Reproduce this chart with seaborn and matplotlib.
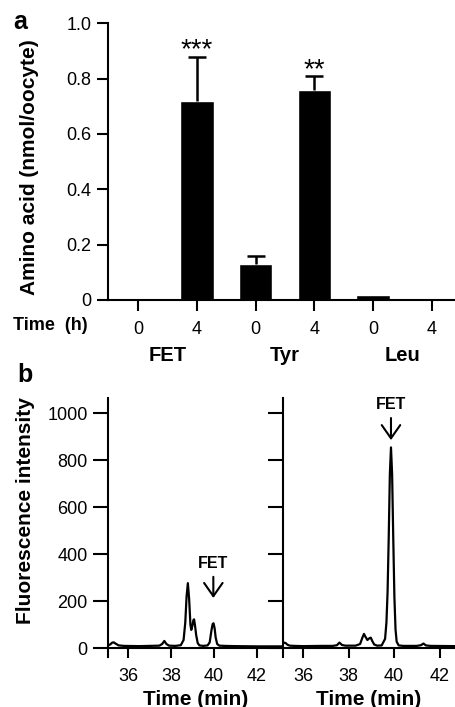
#!/usr/bin/env python3
"""
Two-panel figure: amino acid content per oocyte (bars) and
HPLC fluorescence traces of oocyte extracts.
"""

import pandas as pd

import matplotlib
matplotlib.use('Agg')
import matplotlib.pyplot as plt
import seaborn as sns

# Panel a: bar data
bar_groups = ["FET", "FET", "Tyr", "Tyr", "Leu", "Leu"]
bar_times = ["0", "4", "0", "4", "0", "4"]
bar_values = [0.003, 0.72, 0.13, 0.76, 0.018, 0.003]
bar_errors = [0.0, 0.16, 0.028, 0.05, 0.0, 0.0]
bar_stars = ["", "***", "", "**", "", ""]
group_names = ["FET", "Tyr", "Leu"]
a_yticks = [0, 0.2, 0.4, 0.6, 0.8, 1.0]
a_yticklabels = ["0", "0.2", "0.4", "0.6", "0.8", "1.0"]

# Panel b: chromatograms (time in min, fluorescence intensity)
left_time = [35.05, 35.15, 35.25, 35.32, 35.4, 35.55, 35.8, 36.5, 37.0, 37.45,
             37.58, 37.68, 37.78, 37.9, 38.2, 38.45, 38.58, 38.66, 38.72, 38.78,
             38.84, 38.9, 38.94, 38.99, 39.04, 39.07, 39.11, 39.17, 39.24, 39.32,
             39.5, 39.7, 39.8, 39.88, 39.94, 39.98, 40.03, 40.08, 40.15, 40.25,
             40.5, 41.0, 42.0, 43.25]
left_signal = [12, 16, 24, 25, 20, 12, 10, 9, 10, 11,
               18, 31, 18, 11, 10, 13, 35, 110, 220, 277,
               210, 100, 78, 95, 120, 123, 100, 55, 22, 12,
               10, 12, 25, 75, 104, 106, 85, 45, 18, 11,
               10, 9, 8, 8]
right_time = [35.09, 35.15, 35.22, 35.3, 35.4, 35.6, 36.0, 36.8, 37.3, 37.48,
              37.59, 37.7, 37.85, 38.3, 38.5, 38.6, 38.67, 38.74, 38.82, 38.9,
              38.97, 39.04, 39.12, 39.25, 39.45, 39.6, 39.66, 39.71, 39.76, 39.81,
              39.86, 39.91, 39.96, 40.01, 40.06, 40.11, 40.2, 40.4, 41.0, 41.18,
              41.29, 41.4, 41.6, 42.7]
right_signal = [18, 24, 22, 15, 11, 10, 9, 10, 10, 13,
                24, 14, 11, 11, 18, 45, 61, 48, 35, 42,
                45, 30, 16, 11, 12, 40, 110, 240, 470, 740,
                855, 740, 470, 220, 80, 28, 12, 10, 10, 13,
                20, 12, 10, 9]
b_yticks = [0, 200, 400, 600, 800, 1000]
b_xticks = [36, 38, 40, 42]
left_fet_peak = (39.97, 106)
right_fet_peak = (39.86, 855)

W, H = 455, 707


def fx(px):
    return px / W


def fy(px):
    return 1 - px / H


def style_axis(ax, tick_len):
    sns.despine(ax=ax)
    for side in ("left", "bottom"):
        ax.spines[side].set_linewidth(1.5)
        ax.spines[side].set_color("black")
    ax.tick_params(axis="both", colors="black", width=1.5, length=tick_len,
                   direction="out", labelsize=13)


sns.set_theme(style="ticks")
plt.rcParams["font.family"] = ["Liberation Sans", "DejaVu Sans"]
plt.rcParams.update({"text.color": "black", "axes.labelcolor": "black",
                     "xtick.color": "black", "ytick.color": "black"})

fig = plt.figure(figsize=(W / 100, H / 100), dpi=100)

# ---------------- panel a ----------------
ax_a = fig.add_axes([fx(108), fy(300), fx(347), (300 - 23.3) / H])
df = pd.DataFrame({
    "label": [f"{g} {t}" for g, t in zip(bar_groups, bar_times)],
    "value": bar_values,
})
sns.barplot(data=df, x="label", y="value", color="black", saturation=1,
            width=0.57, ax=ax_a)
pos = list(range(len(bar_values)))
err_idx = [i for i in pos if bar_errors[i] > 0]
_, caps, _ = ax_a.errorbar([pos[i] for i in err_idx], [bar_values[i] for i in err_idx],
                           yerr=[[0] * len(err_idx), [bar_errors[i] for i in err_idx]],
                           fmt="none", ecolor="black", elinewidth=1.8, capsize=6.5,
                           capthick=1.8)
caps[0].set_visible(False)  # only the upper cap is drawn
for i in pos:
    if bar_stars[i]:
        ax_a.text(pos[i], bar_values[i] + bar_errors[i] - 0.004, bar_stars[i],
                  ha="center", va="baseline", fontsize=20)
ax_a.set_xlim(-0.51, 5.39)
ax_a.set_ylim(0, 1.0)
ax_a.set_yticks(a_yticks)
ax_a.set_yticklabels(a_yticklabels)
ax_a.set_xticks(pos)
ax_a.set_xticklabels(bar_times)
ax_a.set_xlabel("")
ax_a.set_ylabel("Amino acid (nmol/oocyte)", fontsize=15, fontweight="bold")
ax_a.yaxis.set_label_coords(-0.198, 0.48)
style_axis(ax_a, 8)
ax_a.tick_params(axis="x", pad=7)
ax_a.tick_params(axis="y", pad=4)
ax_a.grid(False)
for k, name in enumerate(group_names):
    ax_a.text(2 * k + 0.5, -0.2, name, transform=ax_a.get_xaxis_transform(),
              ha="center", va="center", fontsize=14.5, fontweight="bold")
fig.text(fx(50), fy(325), "Time  (h)", ha="center", va="center",
         fontsize=13, fontweight="bold")
fig.text(fx(20), fy(22), "a", ha="center", va="center", fontsize=18,
         fontweight="bold")

# ---------------- panel b ----------------
b_bottom = fy(656.7)
b_height = (656.7 - 398.3) / H
ax_l = fig.add_axes([fx(108), b_bottom, fx(174.7), b_height])
ax_r = fig.add_axes([fx(282.7), b_bottom, fx(172.3), b_height])

sns.lineplot(x=left_time, y=left_signal, color="black", linewidth=1.6,
             sort=False, estimator=None, ax=ax_l)
sns.lineplot(x=right_time, y=right_signal, color="black", linewidth=1.6,
             sort=False, estimator=None, ax=ax_r)

ax_l.set_xlim(35.05, 43.21)
ax_r.set_xlim(35.09, 42.68)
for ax in (ax_l, ax_r):
    ax.set_ylim(-36, 1064)
    ax.set_yticks(b_yticks)
    ax.set_xticks(b_xticks)
    style_axis(ax, 7)
    ax.spines["bottom"].set_position(("data", 0))
    ax.tick_params(axis="y", length=11)
    ax.tick_params(axis="x", pad=7)
    ax.set_xlabel("Time (min)", fontsize=15, fontweight="bold", labelpad=3.5)
    ax.grid(False)
ax_r.set_yticklabels([])
ax_l.set_ylabel("Fluorescence intensity", fontsize=15, fontweight="bold")
ax_l.yaxis.set_label_coords(-0.417, 0.565)

arrow_props = dict(arrowstyle="->, head_length=0.5, head_width=0.35",
                   lw=1.5, color="black", mutation_scale=19,
                   shrinkA=0, shrinkB=0)
for ax, (px, py), length, gap in ((ax_l, left_fet_peak, 90, 108),
                                  (ax_r, right_fet_peak, 94, 31)):
    tip = py + gap
    ax.annotate("", xy=(px, tip), xytext=(px, tip + length), arrowprops=arrow_props)
    ax.text(px, tip + length + 56, "FET", ha="center", va="center",
            fontsize=11.5, fontweight="bold")

fig.text(fx(25), fy(375), "b", ha="center", va="center", fontsize=18,
         fontweight="bold")

fig.savefig("out.png", dpi=100)
plt.close(fig)
